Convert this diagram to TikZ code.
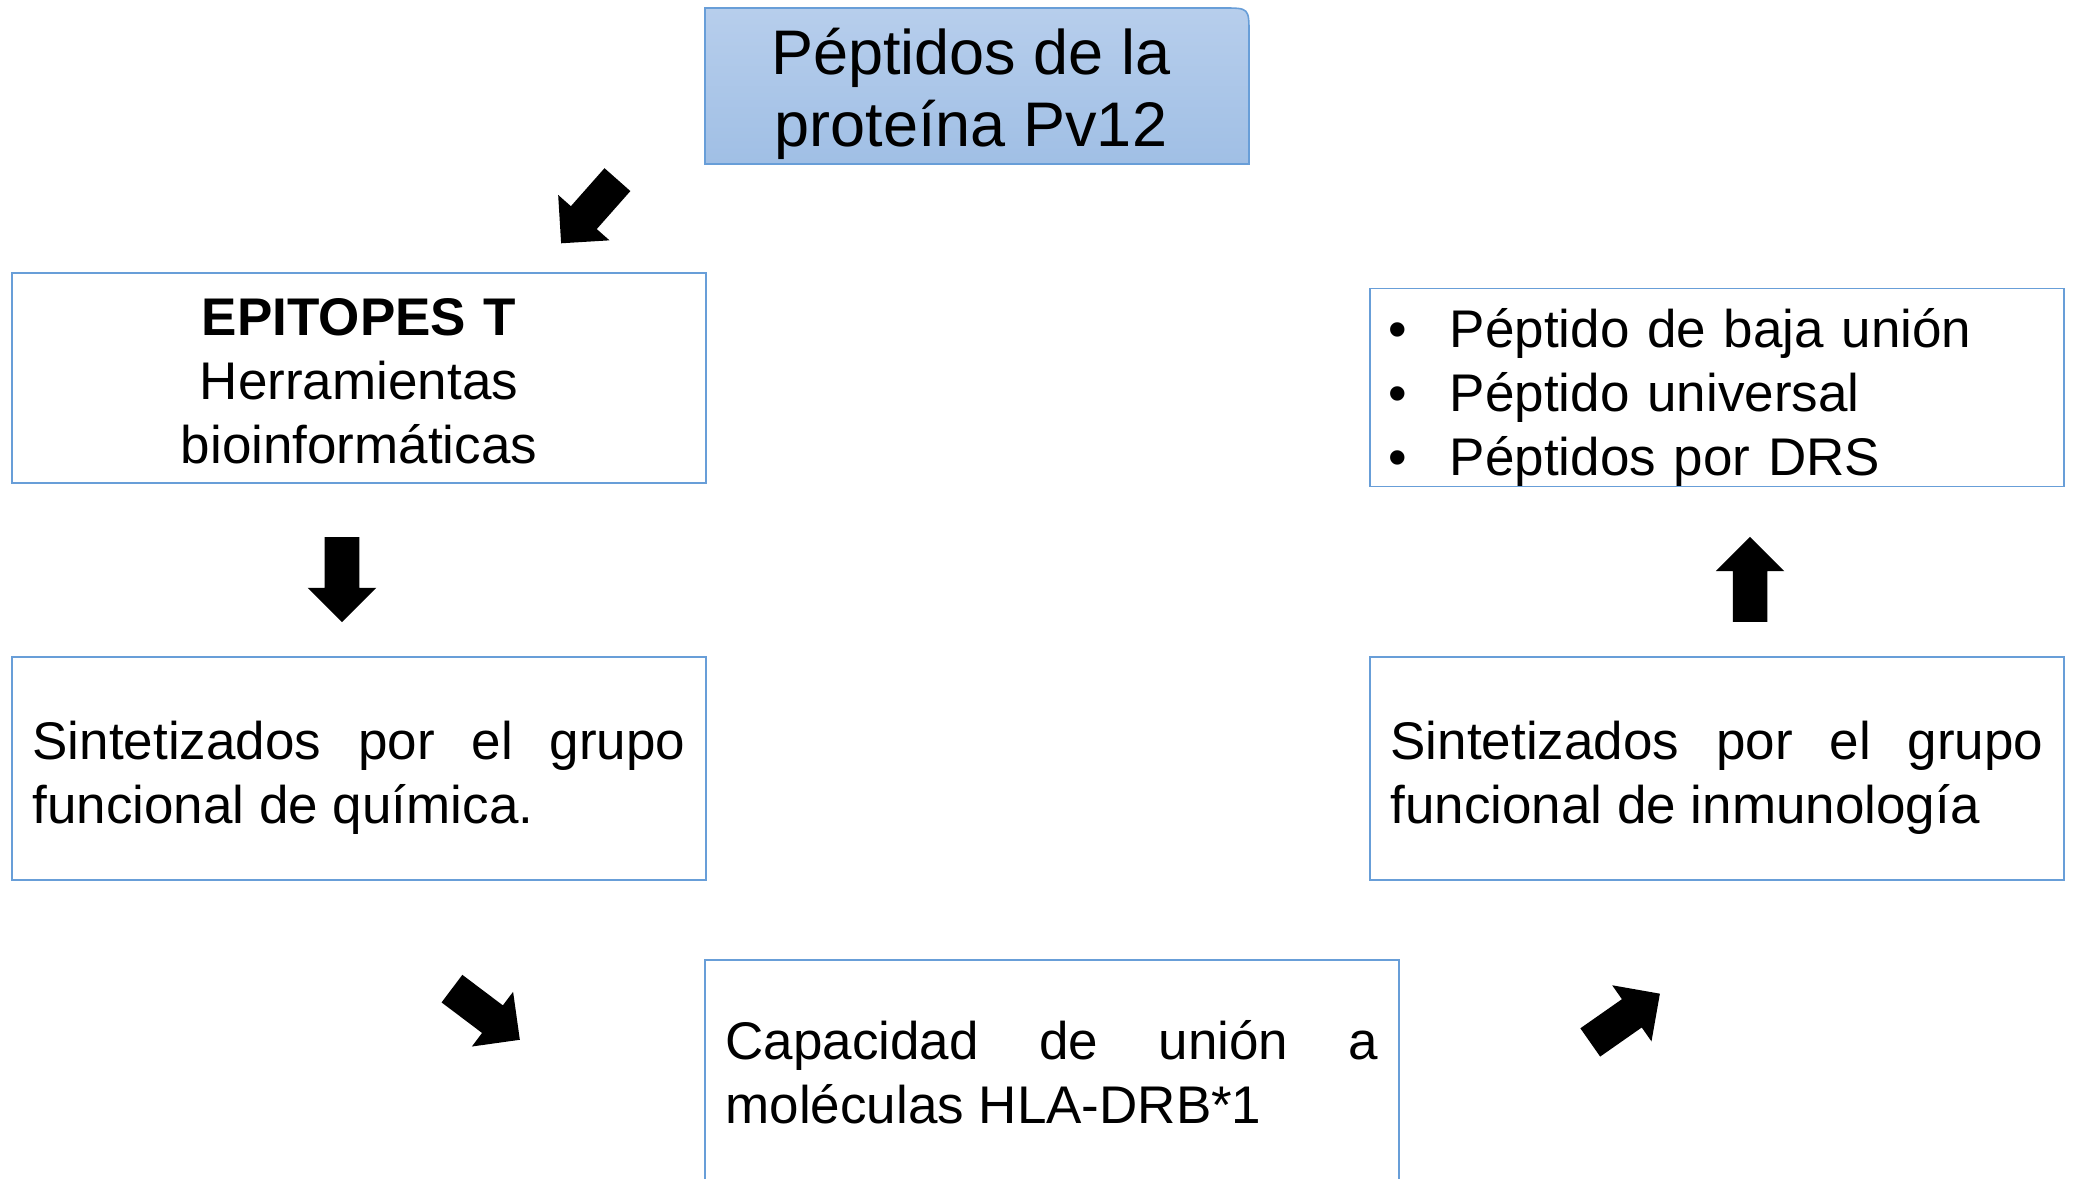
\documentclass[tikz,border=0pt]{standalone}
\usepackage{fontspec}
\setmainfont{Liberation Sans}
\usepackage{tikz}
\usetikzlibrary{arrows,shapes.arrows,calc}

\definecolor{bordeazul}{RGB}{104,158,216}
\definecolor{azulclaro}{RGB}{183,206,236}
\definecolor{azulmedio}{RGB}{160,191,229}

\tolerance=9999
\hyphenpenalty=10000

\tikzset{
  caja/.style={draw=bordeazul, line width=1.2pt, inner ysep=0pt, inner xsep=15.375pt,
    text width=489.75pt, minimum width=520.5pt, font=\fontsize{39.75pt}{48pt}\selectfont},
  flecha/.style={single arrow, fill=black, draw=none, inner xsep=0pt, inner ysep=12.75pt,
    text height=0pt, text depth=0pt, single arrow head extend=12.75pt, minimum height=63.75pt}
}

\begin{document}
\begin{tikzpicture}[x=0.75pt,y=0.75pt,yscale=-1,xscale=1]
%set diagram: 2077 x 1178
\clip (0,0) rectangle (2077,1178);
\fill[white] (0,0) rectangle (2077,1178);

%Shape: Rectangle, top right corner rounded
\shadedraw[top color=azulclaro, bottom color=azulmedio, draw=bordeazul, line width=1.2pt] (705,164) -- (705,8) -- (1223,8) .. controls (1249,8) .. (1249,34) -- (1249,164) -- cycle ;
% Text Node
\node[align=center, inner sep=0pt, font=\fontsize{47.25pt}{54pt}\selectfont] (titulo) at (971,94) {Péptidos de la\\proteína Pv12};

%Shape: Rectangle
\node[caja, align=center, minimum height=157.5pt] (epitopes) at (359,378) {\rule{0pt}{33pt}\textbf{EPITOPES T}\\Herramientas\\bioinformáticas};
%Shape: Rectangle
\node[caja, align=justify, minimum height=167.25pt] (quimica) at (359,768.5) {\rule{0pt}{42.5pt}Sintetizados por el grupo funcional de química.};
%Shape: Rectangle
\node[caja, align=justify, minimum height=180pt] (capacidad) at (1052,1080) {Capacidad de unión a moléculas HLA-DRB*1\rule[-12pt]{0pt}{12pt}};
%Shape: Rectangle
\node[caja, align=justify, minimum height=167.25pt] (inmuno) at (1717,768.5) {\rule{0pt}{42.5pt}Sintetizados por el grupo funcional de inmunología};
%Shape: Rectangle
\node[caja, align=left, inner xsep=13.5pt, text width=493.5pt, minimum height=147.75pt] (tipos) at (1717,387.5) {\rule{0pt}{44.5pt}\makebox[46.5pt][l]{•}Péptido de baja unión\\\makebox[46.5pt][l]{•}Péptido universal\\\makebox[46.5pt][l]{•}Péptidos por DRS};

%Shape: Block Arrows
\node[flecha, rotate=-131.5] (flecha1) at (595,205) {};
\node[flecha, rotate=-90] (flecha2) at (342,571) {};
\node[flecha, rotate=-37] (flecha3) at (479,1009) {};
\node[flecha, rotate=35] (flecha4) at (1618,1023) {};
\node[flecha, rotate=90] (flecha5) at (1750,588) {};

\end{tikzpicture}
\end{document}
